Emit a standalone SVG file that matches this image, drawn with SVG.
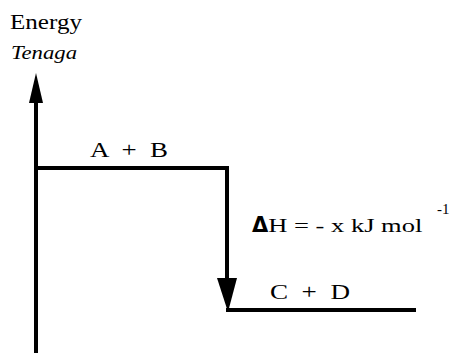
<svg xmlns="http://www.w3.org/2000/svg" width="456" height="353" viewBox="0 0 456 353">
<style>
text{font-family:'Liberation Serif','Times New Roman',serif;fill:#000}
.ln{stroke:#000;stroke-width:4;fill:none}
</style>
<rect width="456" height="353" fill="#fff"/>
<g id="axis-label">
<text x="10" y="29" font-size="21" textLength="72" lengthAdjust="spacingAndGlyphs">Energy</text>
<text x="11" y="59" font-size="19" font-style="italic" textLength="66" lengthAdjust="spacingAndGlyphs">Tenaga</text>
</g>
<g id="connectors">
<line class="ln" x1="36" y1="353" x2="36" y2="98"/>
<polygon points="36,73 29,103 43,103" fill="#000"/>
<line class="ln" x1="227" y1="168" x2="227" y2="285"/>
<polygon points="217,278 237,278 228,312" fill="#000"/>
</g>
<g id="reactants">
<polyline class="ln" points="36,168 227,168 227,170"/>
<text x="90" y="157" font-size="22" xml:space="preserve" textLength="78" lengthAdjust="spacingAndGlyphs">A  +  B</text>
</g>
<g id="products">
<line class="ln" x1="226" y1="310" x2="416" y2="310"/>
<text x="270" y="299" font-size="21" xml:space="preserve" textLength="80" lengthAdjust="spacingAndGlyphs">C  +  D</text>
</g>
<g id="enthalpy">
<text x="252" y="232" font-size="19"><tspan font-family="'DejaVu Sans',sans-serif" font-weight="bold" font-size="21">Δ</tspan><tspan textLength="154" lengthAdjust="spacingAndGlyphs">H = - x kJ mol</tspan></text>
<text x="437" y="214" font-size="15">-1</text>
</g>
</svg>
